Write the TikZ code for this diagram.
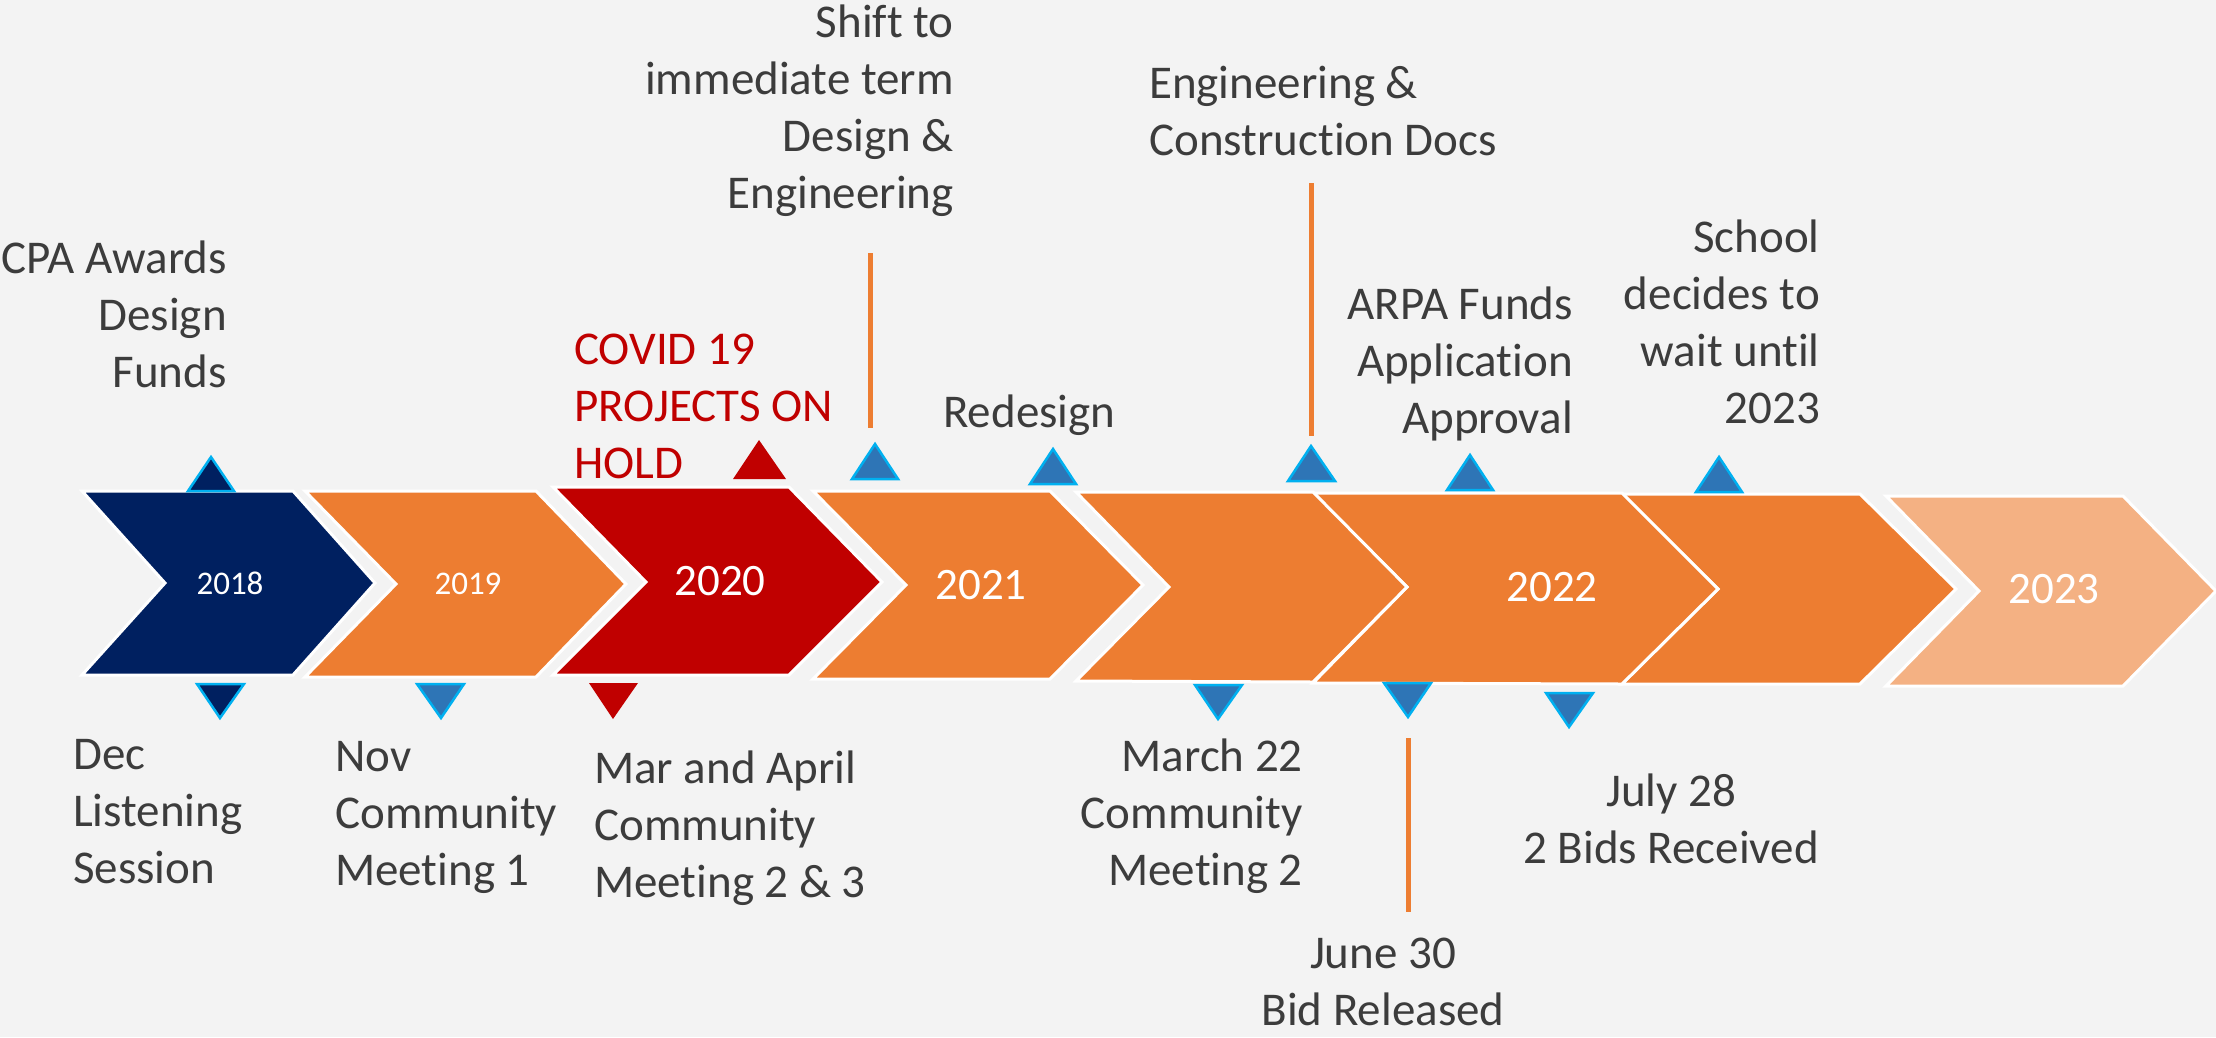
\documentclass[tikz,border=0pt]{standalone}
\usepackage{fontspec}
\setmainfont{Carlito}[Ligatures={NoCommon}]
\definecolor{bg}{HTML}{F3F3F3}
\definecolor{navy}{HTML}{002060}
\definecolor{orng}{HTML}{ED7D31}
\definecolor{dred}{HTML}{C00000}
\definecolor{peach}{HTML}{F4B183}
\definecolor{mblue}{HTML}{2E75B6}
\definecolor{cyanl}{HTML}{00B0F0}
\definecolor{txtgray}{HTML}{3C3C3C}
\begin{document}
\begin{tikzpicture}[x=1pt,y=-1pt,
  chev/.style={draw=white, line width=3pt, line join=miter},
  tri/.style={draw=cyanl, line width=2.5pt, fill=mblue, line join=miter},
  tric/.style={fill=dred},
  lbl/.style={inner sep=0pt, text=txtgray, font=\fontsize{47}{57}\selectfont},
  redlbl/.style={inner sep=0pt, text=dred, font=\fontsize{47}{57}\selectfont},
  yr/.style={inner sep=0pt, text=white, font=\fontsize{45}{54}\selectfont},
  yrs/.style={inner sep=0pt, text=white, font=\fontsize{33}{40}\selectfont},
  vline/.style={draw=orng, line width=5pt}]
\useasboundingbox (0,0) rectangle (2216,1037);
\fill[bg] (0,0) rectangle (2216,1037);

% chevrons (right to left so overlaps show the white edges)
\path[chev, fill=peach] (1886,496) -- (2123,496) -- (2216,591) -- (2123,686) -- (1886,686) -- (1979,591) -- cycle;
\path[chev, fill=orng] (1622,494) -- (1860,494) -- (1956,589) -- (1860,684) -- (1622,684) -- (1718,589) -- cycle;
\path[chev, fill=orng] (1313,493) -- (1622,493) -- (1718,589) -- (1622,684) -- (1313,683) -- (1407,587) -- cycle;
\path[chev, fill=orng] (1076,492) -- (1313,492) -- (1407,587) -- (1313,682) -- (1076,681) -- (1169,587) -- cycle;
\path[chev, fill=orng] (813,491) -- (1050,491) -- (1143,585) -- (1050,679) -- (813,679) -- (906,585) -- cycle;
\path[chev, fill=dred] (553,487) -- (789,487) -- (882,582) -- (789,675) -- (553,675) -- (646,582) -- cycle;
\path[chev, fill=orng] (305,491) -- (536,491) -- (626,584) -- (536,677) -- (305,677) -- (396,584) -- cycle;
\path[chev, fill=navy] (82,491) -- (293,491) -- (375,583) -- (293,675) -- (82,675) -- (165,583) -- cycle;

% year labels
\node[yrs] (y2018) at (230,583) {2018};
\node[yrs] (y2019) at (468,584) {2019};
\node[yr] (y2020) at (720,581) {2020};
\node[yr] (y2021) at (981,585) {2021};
\node[yr] (y2022) at (1552,587) {2022};
\node[yr] (y2023) at (2054,589) {2023};

% upper markers
\path[tri, fill=navy] (211,457) -- (234,491) -- (188,491) -- cycle;
\path[tric] (759,440) -- (786,479) -- (733,479) -- cycle;
\path[tri] (875,444) -- (898,479) -- (852,479) -- cycle;
\path[tri] (1053,449) -- (1076,484) -- (1030,484) -- cycle;
\path[tri] (1311,446) -- (1335,481) -- (1288,481) -- cycle;
\path[tri] (1470,455) -- (1493,490) -- (1447,490) -- cycle;
\path[tri] (1719,457) -- (1742,492) -- (1696,492) -- cycle;

% lower markers
\path[tri, fill=navy] (197,684) -- (244,684) -- (220,718) -- cycle;
\path[tri] (417,684) -- (464,684) -- (441,718) -- cycle;
\path[tric] (589,683) -- (638,683) -- (613,719) -- cycle;
\path[tri] (1195,685) -- (1242,685) -- (1218,719) -- cycle;
\path[tri] (1384,683) -- (1431,683) -- (1408,717) -- cycle;
\path[tri] (1546,693) -- (1593,693) -- (1569,727) -- cycle;

% leader lines
\coordinate (l1a) at (870,253); \coordinate (l1b) at (870,428);
\coordinate (l2a) at (1311,183); \coordinate (l2b) at (1311,436);
\coordinate (l3a) at (1408,738); \coordinate (l3b) at (1408,912);
\draw[vline] (l1a) -- (l1b);
\draw[vline] (l2a) -- (l2b);
\draw[vline] (l3a) -- (l3b);

% upper labels
\node[lbl, anchor=base east] (cpa) at (227,273) {\begin{tabular}[t]{@{}r@{}}CPA Awards\\Design\\Funds\end{tabular}};
\node[redlbl, anchor=base west] (covid) at (574,364) {\begin{tabular}[t]{@{}l@{}}COVID 19\\PROJECTS ON\\HOLD\end{tabular}};
\node[lbl, anchor=base east] (shift) at (954,37) {\begin{tabular}[t]{@{}r@{}}Shift to\\immediate term\\Design \&\\Engineering\end{tabular}};
\node[lbl, anchor=base west] (redesign) at (943,427) {Redesign};
\node[lbl, anchor=base west] (engc) at (1149,98) {\begin{tabular}[t]{@{}l@{}}Engineering \&\\Construction Docs\end{tabular}};
\node[lbl, anchor=base east] (arpa) at (1573,319) {\begin{tabular}[t]{@{}r@{}}ARPA Funds\\Application\\Approval\end{tabular}};
\node[lbl, anchor=base east] (school) at (1820,252) {\begin{tabular}[t]{@{}r@{}}School\\decides to\\wait until\\2023\end{tabular}};

% lower labels
\node[lbl, anchor=base west] (dec) at (73,769) {\begin{tabular}[t]{@{}l@{}}Dec\\Listening\\Session\end{tabular}};
\node[lbl, anchor=base west] (nov) at (335,771) {\begin{tabular}[t]{@{}l@{}}Nov\\Community\\Meeting 1\end{tabular}};
\node[lbl, anchor=base west] (mar) at (594,783) {\begin{tabular}[t]{@{}l@{}}Mar and April\\Community\\Meeting 2 \& 3\end{tabular}};
\node[lbl, anchor=base east] (mar22) at (1303,771) {\begin{tabular}[t]{@{}r@{}}March 22\\Community\\Meeting 2\end{tabular}};
\node[lbl, anchor=base] (june) at (1383,968) {\begin{tabular}[t]{@{}c@{}}June 30\\Bid Released\end{tabular}};
\node[lbl, anchor=base] (july) at (1671,806) {\begin{tabular}[t]{@{}c@{}}July 28\\2 Bids Received\end{tabular}};
\end{tikzpicture}
\end{document}
